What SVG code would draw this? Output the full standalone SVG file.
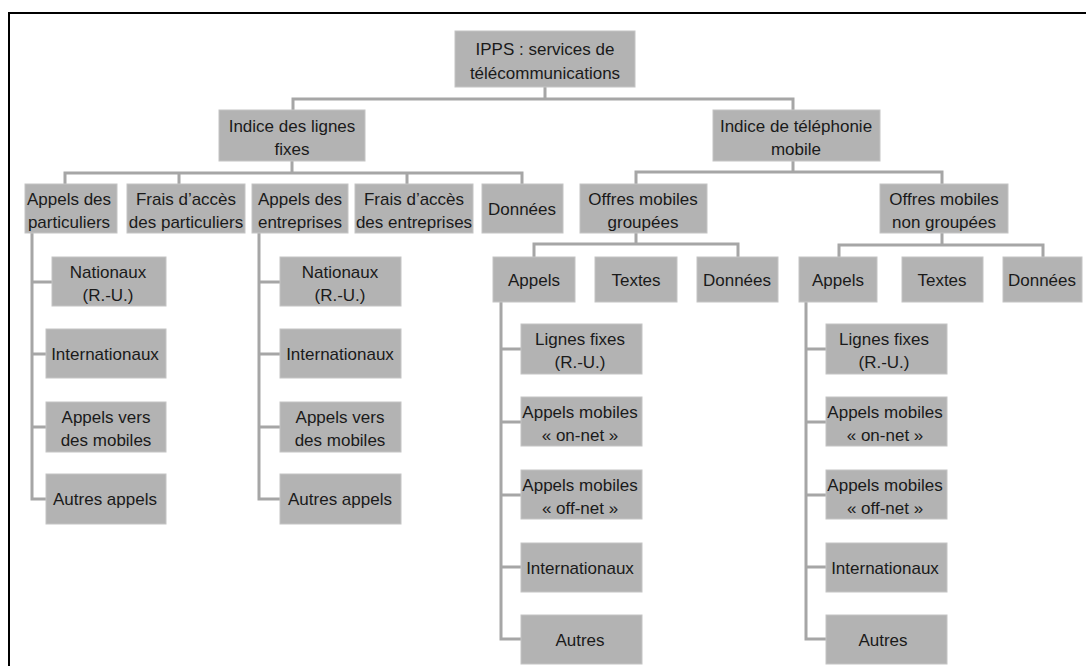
<svg xmlns="http://www.w3.org/2000/svg" width="1086" height="666" viewBox="0 0 1086 666">
<style>
.n rect{fill:#b3b3b3;stroke:#c4c4c4;stroke-width:1}
.n text{font-family:"Liberation Sans",Arial,sans-serif;font-size:17px;fill:#1a1a1a;text-anchor:middle}
.c path{fill:none;stroke:#a6a6a6;stroke-width:3}
</style>
<rect width="1086" height="666" fill="#fff"/>
<path d="M9,670 V13 H1090" fill="none" stroke="#000" stroke-width="2"/>
<g class="c" id="connectors">
<path d="M545,87 V99 M293,110 V99 H793 V110"/>
<path d="M292,161 V173 M65,184 V173 H522 V184 M179,173 V184 M407,173 V184"/>
<path d="M793,161 V172 M636,184 V172 H942 V184"/>
<path d="M636,233 V244 M534,257 V244 H738 V257"/>
<path d="M942,233 V245 M839,257 V245 H1043 V257"/>
<path d="M32,233 V499 H46 M32,282 H52 M32,354 H46 M32,427 H46"/>
<path d="M259,233 V499 H280 M259,282 H280 M259,354 H280 M259,427 H280"/>
<path d="M501,302 V639 H521 M501,349 H521 M501,422 H521 M501,495 H521 M501,567 H521"/>
<path d="M806,302 V639 H826 M806,349 H826 M806,422 H826 M806,495 H826 M806,567 H826"/>
</g>
<g class="n" id="root"><rect x="455" y="31" width="180" height="56"/><text x="545" y="55">IPPS : services de</text><text x="545" y="79">télécommunications</text></g>
<g class="n" id="fixes"><rect x="219" y="110" width="146" height="51"/><text x="292" y="132">Indice des lignes</text><text x="292" y="155">fixes</text></g>
<g class="n" id="mobile"><rect x="713" y="110" width="167" height="51"/><text x="796" y="132">Indice de téléphonie</text><text x="796" y="155">mobile</text></g>
<g class="n" id="appels-part"><rect x="25" y="184" width="92" height="49"/><text x="69" y="205">Appels des</text><text x="69" y="228">particuliers</text></g>
<g class="n" id="frais-part"><rect x="127" y="184" width="118" height="49"/><text x="186" y="205">Frais d’accès</text><text x="186" y="228">des particuliers</text></g>
<g class="n" id="appels-ent"><rect x="252" y="184" width="96" height="49"/><text x="300" y="205">Appels des</text><text x="300" y="228">entreprises</text></g>
<g class="n" id="frais-ent"><rect x="355" y="184" width="118" height="49"/><text x="414" y="205">Frais d’accès</text><text x="414" y="228">des entreprises</text></g>
<g class="n" id="donnees-fixes"><rect x="482" y="184" width="81" height="49"/><text x="522" y="215">Données</text></g>
<g class="n" id="groupees"><rect x="580" y="184" width="127" height="49"/><text x="643" y="205">Offres mobiles</text><text x="643" y="228">groupées</text></g>
<g class="n" id="non-groupees"><rect x="880" y="184" width="128" height="49"/><text x="944" y="205">Offres mobiles</text><text x="944" y="228">non groupées</text></g>
<g class="n" id="g-appels"><rect x="493" y="257" width="82" height="45"/><text x="534" y="286">Appels</text></g>
<g class="n" id="g-textes"><rect x="595" y="257" width="82" height="45"/><text x="636" y="286">Textes</text></g>
<g class="n" id="g-donnees"><rect x="697" y="257" width="81" height="45"/><text x="737" y="286">Données</text></g>
<g class="n" id="ng-appels"><rect x="799" y="257" width="78" height="45"/><text x="838" y="286">Appels</text></g>
<g class="n" id="ng-textes"><rect x="902" y="257" width="81" height="45"/><text x="942" y="286">Textes</text></g>
<g class="n" id="ng-donnees"><rect x="1003" y="257" width="79" height="45"/><text x="1042" y="286">Données</text></g>
<g class="n" id="p-nat"><rect x="52" y="257" width="114" height="49"/><text x="108" y="278">Nationaux</text><text x="108" y="301">(R.-U.)</text></g>
<g class="n" id="p-int"><rect x="46" y="329" width="120" height="49"/><text x="105" y="360">Internationaux</text></g>
<g class="n" id="p-mob"><rect x="46" y="402" width="120" height="50"/><text x="106" y="423">Appels vers</text><text x="106" y="446">des mobiles</text></g>
<g class="n" id="p-aut"><rect x="46" y="474" width="120" height="50"/><text x="105" y="505">Autres appels</text></g>
<g class="n" id="e-nat"><rect x="280" y="257" width="121" height="49"/><text x="340" y="278">Nationaux</text><text x="340" y="301">(R.-U.)</text></g>
<g class="n" id="e-int"><rect x="280" y="329" width="121" height="49"/><text x="340" y="360">Internationaux</text></g>
<g class="n" id="e-mob"><rect x="280" y="402" width="121" height="50"/><text x="340" y="423">Appels vers</text><text x="340" y="446">des mobiles</text></g>
<g class="n" id="e-aut"><rect x="280" y="474" width="121" height="50"/><text x="340" y="505">Autres appels</text></g>
<g class="n" id="g-fix"><rect x="521" y="324" width="121" height="50"/><text x="580" y="345">Lignes fixes</text><text x="580" y="368">(R.-U.)</text></g>
<g class="n" id="g-on"><rect x="521" y="397" width="121" height="49"/><text x="580" y="418">Appels mobiles</text><text x="580" y="441">« on-net »</text></g>
<g class="n" id="g-off"><rect x="521" y="470" width="121" height="49"/><text x="580" y="491">Appels mobiles</text><text x="580" y="514">« off-net »</text></g>
<g class="n" id="g-int"><rect x="521" y="543" width="121" height="49"/><text x="580" y="574">Internationaux</text></g>
<g class="n" id="g-aut"><rect x="521" y="615" width="121" height="49"/><text x="580" y="646">Autres</text></g>
<g class="n" id="ng-fix"><rect x="826" y="324" width="121" height="50"/><text x="884" y="345">Lignes fixes</text><text x="884" y="368">(R.-U.)</text></g>
<g class="n" id="ng-on"><rect x="826" y="397" width="121" height="49"/><text x="885" y="418">Appels mobiles</text><text x="885" y="441">« on-net »</text></g>
<g class="n" id="ng-off"><rect x="826" y="470" width="121" height="49"/><text x="885" y="491">Appels mobiles</text><text x="885" y="514">« off-net »</text></g>
<g class="n" id="ng-int"><rect x="826" y="543" width="121" height="49"/><text x="885" y="574">Internationaux</text></g>
<g class="n" id="ng-aut"><rect x="826" y="615" width="121" height="49"/><text x="883" y="646">Autres</text></g>
</svg>
